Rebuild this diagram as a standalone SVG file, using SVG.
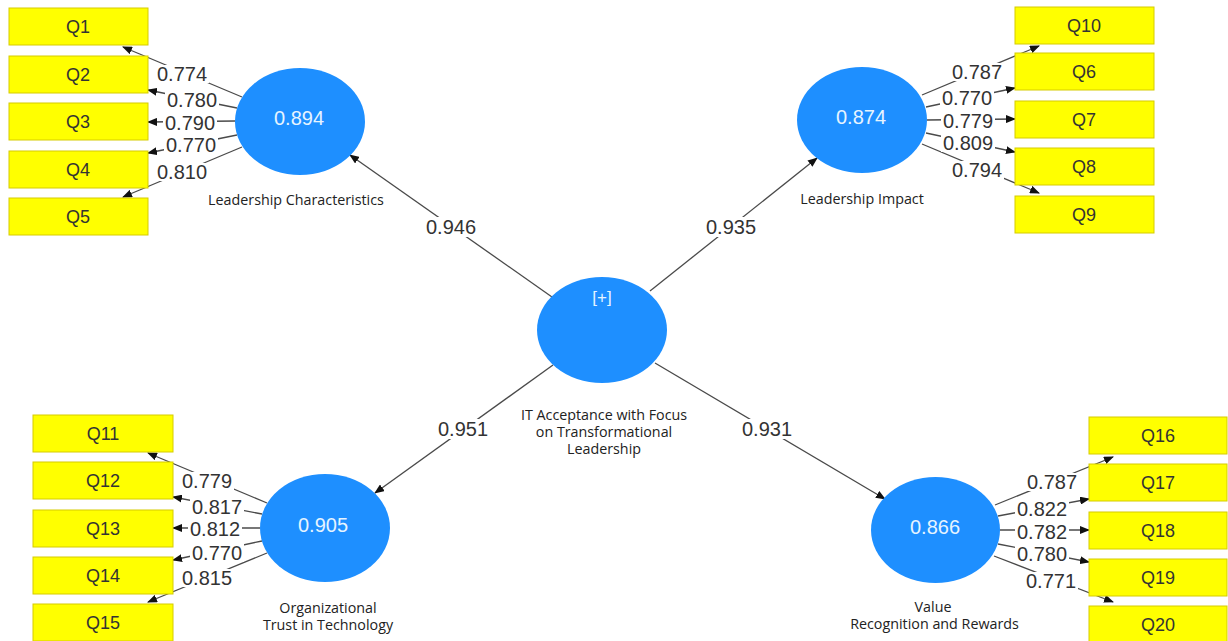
<svg xmlns="http://www.w3.org/2000/svg" width="1228" height="641" viewBox="0 0 1228 641">
<style>
.bg{fill:#ffffff}
.ind rect{fill:#ffff00;stroke:#d6cc00;stroke-width:1}
.ind text{font-family:"Liberation Sans",Arial,sans-serif;font-size:18px;fill:#333;text-anchor:middle}
.lv ellipse{fill:#1e8fff}
.lv .val{font-family:"Liberation Sans",Arial,sans-serif;font-size:20px;fill:#e6f4ff;text-anchor:middle}
.lv .name{font-family:"Open Sans","Liberation Sans",Arial,sans-serif;font-size:14.3px;fill:#222;text-anchor:middle}
.edge{stroke:#4a4a4a;stroke-width:1.3;fill:none;marker-end:url(#ah)}
.lbl rect{fill:#ffffff}
.lbl text{font-family:"Liberation Sans",Arial,sans-serif;font-size:20px;fill:#333;text-anchor:middle}
</style>
<defs>
<marker id="ah" markerWidth="10" markerHeight="8" refX="9" refY="4" orient="auto" markerUnits="userSpaceOnUse">
<path d="M0,0 L10,4 L0,8 Z" fill="#111"/>
</marker>
</defs>
<rect class="bg" x="0" y="0" width="1228" height="641"/>

<g id="connectors">
<!-- structural -->
<line class="edge" x1="552" y1="297" x2="350" y2="155"/>
<line class="edge" x1="650" y1="291" x2="817" y2="158"/>
<line class="edge" x1="553" y1="365" x2="375" y2="493"/>
<line class="edge" x1="655" y1="363" x2="885" y2="499"/>
<!-- LC loadings -->
<line class="edge" x1="242" y1="97" x2="123" y2="47"/>
<line class="edge" x1="237" y1="108" x2="148" y2="90"/>
<line class="edge" x1="235" y1="121" x2="148" y2="122"/>
<line class="edge" x1="237" y1="135" x2="148" y2="153"/>
<line class="edge" x1="242" y1="147" x2="123" y2="197"/>
<!-- LI loadings -->
<line class="edge" x1="922" y1="95" x2="1039" y2="46"/>
<line class="edge" x1="926" y1="107" x2="1015" y2="88"/>
<line class="edge" x1="927" y1="120" x2="1015" y2="119"/>
<line class="edge" x1="926" y1="133" x2="1015" y2="152"/>
<line class="edge" x1="922" y1="144" x2="1039" y2="193"/>
<!-- OT loadings -->
<line class="edge" x1="267" y1="503" x2="148" y2="453"/>
<line class="edge" x1="262" y1="514" x2="173" y2="497"/>
<line class="edge" x1="260" y1="528" x2="173" y2="528"/>
<line class="edge" x1="262" y1="541" x2="173" y2="560"/>
<line class="edge" x1="267" y1="553" x2="148" y2="602"/>
<!-- VR loadings -->
<line class="edge" x1="995" y1="505" x2="1113" y2="457"/>
<line class="edge" x1="998" y1="516" x2="1089" y2="499"/>
<line class="edge" x1="1000" y1="530" x2="1089" y2="530"/>
<line class="edge" x1="998" y1="544" x2="1089" y2="562"/>
<line class="edge" x1="994" y1="556" x2="1113" y2="602"/>

<g class="lbl">
<rect x="423" y="217" width="56" height="20"/><text x="451" y="234">0.946</text>
<rect x="703" y="217" width="56" height="20"/><text x="731" y="234">0.935</text>
<rect x="435" y="419" width="56" height="20"/><text x="463" y="436">0.951</text>
<rect x="739" y="419" width="56" height="20"/><text x="767" y="436">0.931</text>

<rect x="155" y="65" width="54" height="18"/><text x="182" y="81">0.774</text>
<rect x="165" y="91" width="54" height="18"/><text x="192" y="107">0.780</text>
<rect x="163" y="114" width="54" height="18"/><text x="190" y="130">0.790</text>
<rect x="164" y="136" width="54" height="18"/><text x="191" y="152">0.770</text>
<rect x="155" y="163" width="54" height="18"/><text x="182" y="179">0.810</text>

<rect x="950" y="63" width="54" height="18"/><text x="977" y="79">0.787</text>
<rect x="940" y="89" width="54" height="18"/><text x="967" y="105">0.770</text>
<rect x="941" y="112" width="54" height="18"/><text x="968" y="128">0.779</text>
<rect x="941" y="134" width="54" height="18"/><text x="968" y="150">0.809</text>
<rect x="950" y="161" width="54" height="18"/><text x="977" y="177">0.794</text>

<rect x="180" y="472" width="54" height="18"/><text x="207" y="488">0.779</text>
<rect x="190" y="498" width="54" height="18"/><text x="217" y="514">0.817</text>
<rect x="188" y="520" width="54" height="18"/><text x="215" y="536">0.812</text>
<rect x="190" y="544" width="54" height="18"/><text x="217" y="560">0.770</text>
<rect x="180" y="569" width="54" height="18"/><text x="207" y="585">0.815</text>

<rect x="1025" y="473" width="54" height="18"/><text x="1052" y="489">0.787</text>
<rect x="1015" y="500" width="54" height="18"/><text x="1042" y="516">0.822</text>
<rect x="1015" y="523" width="54" height="18"/><text x="1042" y="539">0.782</text>
<rect x="1015" y="545" width="54" height="18"/><text x="1042" y="561">0.780</text>
<rect x="1024" y="572" width="54" height="18"/><text x="1051" y="588">0.771</text>
</g>
</g>

<g id="lv-center" class="lv">
<ellipse cx="602" cy="330" rx="65" ry="53"/>
<text class="val" x="602" y="303" style="font-size:17px">[+]</text>
<text class="name" x="604" y="420">IT Acceptance with Focus</text>
<text class="name" x="604" y="437">on Transformational</text>
<text class="name" x="604" y="454">Leadership</text>
</g>
<g id="lv-lc" class="lv">
<ellipse cx="300" cy="121.5" rx="65" ry="53.5"/>
<text class="val" x="299" y="125">0.894</text>
<text class="name" x="296" y="205">Leadership Characteristics</text>
</g>
<g id="lv-li" class="lv">
<ellipse cx="862" cy="120" rx="65" ry="53"/>
<text class="val" x="861" y="124">0.874</text>
<text class="name" x="862" y="204">Leadership Impact</text>
</g>
<g id="lv-ot" class="lv">
<ellipse cx="325" cy="528" rx="65" ry="54"/>
<text class="val" x="323" y="532">0.905</text>
<text class="name" x="328" y="613">Organizational</text>
<text class="name" x="328" y="630">Trust in Technology</text>
</g>
<g id="lv-vr" class="lv">
<ellipse cx="935.5" cy="530" rx="64.5" ry="53"/>
<text class="val" x="935" y="534">0.866</text>
<text class="name" x="933" y="612">Value</text>
<text class="name" x="934.5" y="629">Recognition and Rewards</text>
</g>

<g id="q1" class="ind"><rect x="9" y="8" width="139" height="37"/><text x="78" y="33">Q1</text></g>
<g id="q2" class="ind"><rect x="9" y="56" width="139" height="37"/><text x="78" y="81">Q2</text></g>
<g id="q3" class="ind"><rect x="9" y="103" width="139" height="37"/><text x="78" y="128">Q3</text></g>
<g id="q4" class="ind"><rect x="9" y="151" width="139" height="37"/><text x="78" y="176">Q4</text></g>
<g id="q5" class="ind"><rect x="9" y="198" width="139" height="37"/><text x="78" y="223">Q5</text></g>

<g id="q10" class="ind"><rect x="1015" y="7" width="139" height="37"/><text x="1084" y="32">Q10</text></g>
<g id="q6" class="ind"><rect x="1015" y="53" width="139" height="37"/><text x="1084" y="78">Q6</text></g>
<g id="q7" class="ind"><rect x="1015" y="101" width="139" height="37"/><text x="1084" y="126">Q7</text></g>
<g id="q8" class="ind"><rect x="1015" y="148" width="139" height="37"/><text x="1084" y="173">Q8</text></g>
<g id="q9" class="ind"><rect x="1015" y="196" width="139" height="37"/><text x="1084" y="221">Q9</text></g>

<g id="q11" class="ind"><rect x="33" y="415" width="140" height="37"/><text x="103" y="440">Q11</text></g>
<g id="q12" class="ind"><rect x="33" y="462" width="140" height="37"/><text x="103" y="487">Q12</text></g>
<g id="q13" class="ind"><rect x="33" y="510" width="140" height="37"/><text x="103" y="535">Q13</text></g>
<g id="q14" class="ind"><rect x="33" y="557" width="140" height="37"/><text x="103" y="582">Q14</text></g>
<g id="q15" class="ind"><rect x="33" y="604" width="140" height="37"/><text x="103" y="629">Q15</text></g>

<g id="q16" class="ind"><rect x="1089" y="417" width="138" height="37"/><text x="1158" y="442">Q16</text></g>
<g id="q17" class="ind"><rect x="1089" y="464" width="138" height="37"/><text x="1158" y="489">Q17</text></g>
<g id="q18" class="ind"><rect x="1089" y="512" width="138" height="37"/><text x="1158" y="537">Q18</text></g>
<g id="q19" class="ind"><rect x="1089" y="559" width="138" height="37"/><text x="1158" y="584">Q19</text></g>
<g id="q20" class="ind"><rect x="1089" y="606" width="138" height="37"/><text x="1158" y="631">Q20</text></g>
</svg>
